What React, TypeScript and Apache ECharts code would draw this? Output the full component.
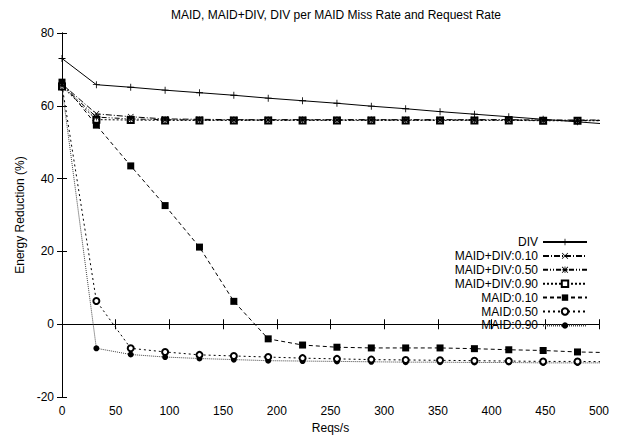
import React, { useEffect, useRef } from "react";
import * as echarts from "echarts";

const xs = [0, 32, 64, 96, 128, 160, 192, 224, 256, 288, 320, 352, 384, 416, 448, 480, 512];
const seriesNames = ["DIV", "MAID+DIV:0.10", "MAID+DIV:0.50", "MAID+DIV:0.90", "MAID:0.10", "MAID:0.50", "MAID:0.90"];
const div = [73.0, 65.8, 65.1, 64.3, 63.6, 62.9, 62.1, 61.4, 60.7, 59.9, 59.2, 58.4, 57.7, 57.0, 56.3, 55.6, 54.9];
const maidDiv10 = [66.0, 57.8, 57.0, 56.4, 56.3, 56.2, 56.2, 56.2, 56.2, 56.2, 56.2, 56.2, 56.2, 56.2, 56.1, 56.1, 56.1];
const maidDiv50 = [65.6, 56.9, 56.4, 56.2, 56.1, 56.1, 56.1, 56.1, 56.1, 56.1, 56.1, 56.1, 56.1, 56.1, 56.0, 56.0, 56.0];
const maidDiv90 = [65.3, 56.2, 56.1, 56.0, 56.0, 56.0, 56.0, 56.0, 56.0, 56.0, 56.0, 56.0, 56.0, 56.0, 55.9, 55.9, 55.9];
const maid10 = [66.5, 54.7, 43.5, 32.6, 21.2, 6.3, -4.0, -5.7, -6.3, -6.5, -6.5, -6.5, -6.7, -7.0, -7.2, -7.6, -7.8];
const maid50 = [65.6, 6.4, -6.6, -7.6, -8.4, -8.7, -9.0, -9.3, -9.5, -9.7, -9.8, -9.9, -10.0, -10.1, -10.2, -10.2, -10.3];
const maid90 = [65.0, -6.6, -8.3, -9.0, -9.4, -9.7, -10.0, -10.1, -10.2, -10.3, -10.4, -10.4, -10.5, -10.5, -10.6, -10.6, -10.6];
const xTicks = { min: 0, max: 500, interval: 50 };
const yTicks = { min: -20, max: 80, interval: 20 };

const FONT = "'Liberation Sans', Arial, sans-serif";
const PLUS = "path://M4.4,0H5.6V4.4H10V5.6H5.6V10H4.4V5.6H0V4.4H4.4Z";
const CROSS = "path://M0.85,0L10,9.15L9.15,10L0,0.85ZM9.15,0L10,0.85L0.85,10L0,9.15Z";
const STAR = "path://M4.4,0H5.6V10H4.4ZM0,4.4H10V5.6H0ZM0.85,0L10,9.15L9.15,10L0,0.85ZM9.15,0L10,0.85L0.85,10L0,9.15Z";

export default function App() {
  const ref = useRef<HTMLDivElement>(null);
  useEffect(() => {
    if (!ref.current) return;
    const chart = echarts.init(ref.current, undefined, { renderer: "svg" });
    const values = [div, maidDiv10, maidDiv50, maidDiv90, maid10, maid50, maid90];
    const styles: any[] = [
      { symbol: PLUS, size: 7, dash: "solid", color: "#000", empty: false },
      { symbol: CROSS, size: 6, dash: [6, 2, 1, 2], color: "#000", empty: false },
      { symbol: STAR, size: 7, dash: [5, 2, 1, 2, 1, 2], color: "#000", empty: false },
      { symbol: "emptyRect", size: 6, dash: [2, 2], color: "#000", empty: true },
      { symbol: "rect", size: 7, dash: [4, 3], color: "#000", empty: false },
      { symbol: "emptyCircle", size: 6, dash: [2, 3], color: "#000", empty: true },
      { symbol: "circle", size: 6, dash: [1, 1], color: "#444", empty: false },
    ];
    const series = seriesNames.map((name, i) => ({
      name,
      type: "line",
      data: xs.map((x, j) => [x, values[i][j]]),
      clip: true,
      symbol: styles[i].symbol,
      symbolSize: styles[i].size,
      showAllSymbol: true,
      lineStyle: { color: styles[i].color, width: 1, type: styles[i].dash },
      itemStyle: styles[i].empty
        ? { color: "#000", borderColor: "#000", borderWidth: 1 }
        : { color: "#000", borderWidth: 0 },
      emphasis: { disabled: true },
      z: 10 - i,
    }));
    const axisCommon = {
      axisLine: { show: true, lineStyle: { color: "#000", width: 1 } },
      axisTick: { show: true, inside: true, length: 5, lineStyle: { color: "#000" } },
      splitLine: { show: false },
    };
    chart.setOption({
      animation: false,
      backgroundColor: "#fff",
      textStyle: { fontFamily: FONT },
      title: {
        text: "MAID, MAID+DIV, DIV per MAID Miss Rate and Request Rate",
        left: 331,
        top: 4,
        textAlign: "center",
        textStyle: { fontSize: 12, fontWeight: "normal", color: "#000", fontFamily: FONT },
      },
      grid: { left: 62, right: 25, top: 33, bottom: 40, containLabel: false },
      legend: {
        data: seriesNames,
        orient: "vertical",
        align: "right",
        right: 31,
        top: 231,
        itemWidth: 44,
        itemHeight: 8,
        itemGap: 1.9,
        textStyle: { fontSize: 12, color: "#000", fontFamily: FONT },
        selectedMode: false,
      },
      xAxis: [
        {
          type: "value",
          ...xTicks,
          name: "Reqs/s",
          nameLocation: "middle",
          nameGap: 23,
          nameTextStyle: { fontSize: 12, color: "#000", fontFamily: FONT },
          axisLabel: { fontSize: 12, color: "#000", margin: 8, fontFamily: FONT },
          ...axisCommon,
        },
        {
          type: "value",
          position: "top",
          ...xTicks,
          axisLabel: { show: false },
          ...axisCommon,
        },
      ],
      yAxis: [
        {
          type: "value",
          ...yTicks,
          name: "Energy Reduction (%)",
          nameLocation: "middle",
          nameRotate: 90,
          nameGap: 36,
          nameTextStyle: { fontSize: 12, color: "#000", fontFamily: FONT },
          axisLabel: { fontSize: 12, color: "#000", margin: 8, fontFamily: FONT },
          ...axisCommon,
        },
        {
          type: "value",
          position: "right",
          ...yTicks,
          axisLabel: { show: false },
          ...axisCommon,
        },
      ],
      series,
    });
    return () => chart.dispose();
  }, []);
  return (
    <div
      ref={ref}
      style={{ position: "fixed", left: 0, top: 0, width: 624, height: 439, background: "#fff" }}
    />
  );
}
